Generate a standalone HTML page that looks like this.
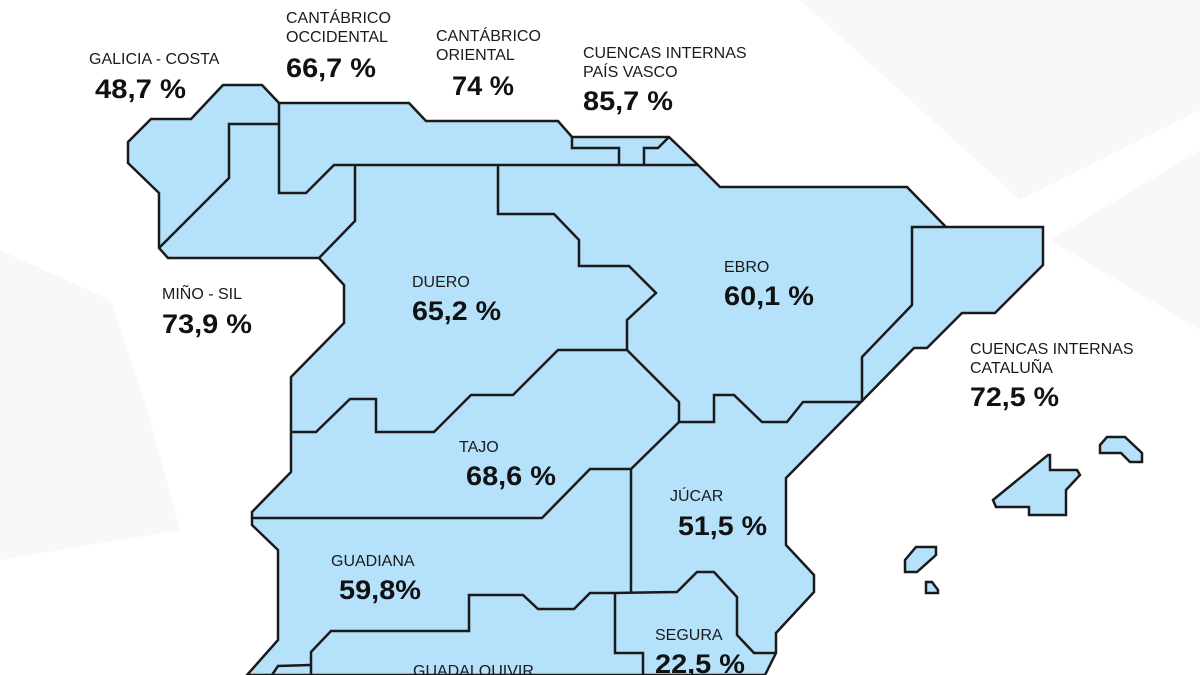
<!DOCTYPE html>
<html><head><meta charset="utf-8"><style>
html,body{margin:0;padding:0;background:#fff;}
svg{display:block}
.n{font-family:"Liberation Sans",sans-serif;font-size:16px;fill:#1a1a1a}
.v{font-family:"Liberation Sans",sans-serif;font-size:27px;font-weight:bold;fill:#111}
</style></head><body>
<svg width="1200" height="675" viewBox="0 0 1200 675" xmlns="http://www.w3.org/2000/svg">
<rect width="1200" height="675" fill="#fff"/>
<g fill="#f8f8f8">
<polygon points="0,250 110,300 150,420 0,480"/>
<polygon points="0,480 150,420 180,530 0,560"/>
<polygon points="800,0 1200,0 1200,110 1020,200"/>
<polygon points="1050,240 1200,150 1200,330"/>
</g>
<g fill="#b5e1fb" stroke="#1a1a1a" stroke-width="2.5" stroke-linejoin="miter">
<polygon points="128,142 151,119 191,119 223,85 262,85 279,103 409,103 426,121 558,121 572,137 669,137 698,165 720,187 907,187 946,227 1043,227 1043,265 995,313 962,313 927,348 914,348 861,402 786,478 786,545 814,575 814,592 776,633 776,653 765,675 247,675 278,640 278,550 252,525 252,512 291,472 291,377 344,323 344,285 319,258 168,258 159,248 159,193 128,163"/>
<polygon points="993,500 1048,455 1050,455 1050,470 1077,470 1080,475 1066,490 1066,515 1029,515 1029,507 996,507"/>
<polygon points="1100,445 1107,437 1125,437 1142,453 1142,462 1130,462 1121,453 1100,453"/>
<polygon points="905,560 916,547 936,547 936,555 917,572 905,572"/>
<polygon points="926,582 932,582 938,590 938,593 926,593"/>
</g>
<g fill="none" stroke="#1a1a1a" stroke-width="2.5" stroke-linejoin="miter">
<polyline points="279,124 229,124 229,178 159,248"/>
<polyline points="279,103 279,193 306,193 334,165 698,165"/>
<polyline points="355,165 355,221 319,258"/>
<polyline points="572,137 572,148 619,148 619,165"/>
<polyline points="644,165 644,148 658,148 669,137"/>
<polyline points="498,165 498,214 554,214 579,240 579,266 629,266 656,293 627,320 627,350"/>
<polyline points="291,432 316,432 350,399 376,399 376,432 434,432 471,395 513,395 558,350 627,350 679,402 679,422"/>
<polyline points="679,422 714,422 714,395 734,395 762,422 787,422 803,402 861,402"/>
<polyline points="946,227 912,227 912,305 862,357 862,402"/>
<polyline points="679,422 631,469 590,469 542,518 252,518"/>
<polyline points="631,469 631,592"/>
<polyline points="615,593 677,592 697,572 714,572 737,597 737,635 754,653 776,653"/>
<polyline points="615,593 590,593 574,609 538,609 523,595 469,595 469,631 331,631 311,652 311,675"/>
<polyline points="615,593 615,653 643,653 643,675"/>
<polyline points="310,665 278,666 272,675"/>
</g>
<text class="n" x="89" y="64">GALICIA - COSTA</text>
<text class="v" x="95" y="98" textLength="91" lengthAdjust="spacingAndGlyphs">48,7 %</text>
<text class="n" x="286" y="23">CANTÁBRICO</text>
<text class="n" x="286" y="42">OCCIDENTAL</text>
<text class="v" x="286" y="77" textLength="90" lengthAdjust="spacingAndGlyphs">66,7 %</text>
<text class="n" x="436" y="41">CANTÁBRICO</text>
<text class="n" x="436" y="60">ORIENTAL</text>
<text class="v" x="452" y="95" textLength="62" lengthAdjust="spacingAndGlyphs">74 %</text>
<text class="n" x="583" y="58">CUENCAS INTERNAS</text>
<text class="n" x="583" y="77">PAÍS VASCO</text>
<text class="v" x="583" y="110" textLength="90" lengthAdjust="spacingAndGlyphs">85,7 %</text>
<text class="n" x="162" y="299">MIÑO - SIL</text>
<text class="v" x="162" y="333" textLength="90" lengthAdjust="spacingAndGlyphs">73,9 %</text>
<text class="n" x="412" y="287">DUERO</text>
<text class="v" x="412" y="320" textLength="89" lengthAdjust="spacingAndGlyphs">65,2 %</text>
<text class="n" x="724" y="272">EBRO</text>
<text class="v" x="724" y="305" textLength="90" lengthAdjust="spacingAndGlyphs">60,1 %</text>
<text class="n" x="970" y="354">CUENCAS INTERNAS</text>
<text class="n" x="970" y="373">CATALUÑA</text>
<text class="v" x="970" y="406" textLength="89" lengthAdjust="spacingAndGlyphs">72,5 %</text>
<text class="n" x="459" y="452">TAJO</text>
<text class="v" x="466" y="485" textLength="90" lengthAdjust="spacingAndGlyphs">68,6 %</text>
<text class="n" x="670" y="501">JÚCAR</text>
<text class="v" x="678" y="535" textLength="89" lengthAdjust="spacingAndGlyphs">51,5 %</text>
<text class="n" x="331" y="566">GUADIANA</text>
<text class="v" x="339" y="599" textLength="82" lengthAdjust="spacingAndGlyphs">59,8%</text>
<text class="n" x="655" y="640">SEGURA</text>
<text class="v" x="655" y="673" textLength="90" lengthAdjust="spacingAndGlyphs">22,5 %</text>
<text class="n" x="413" y="676">GUADALQUIVIR</text>
</svg>
</body></html>
